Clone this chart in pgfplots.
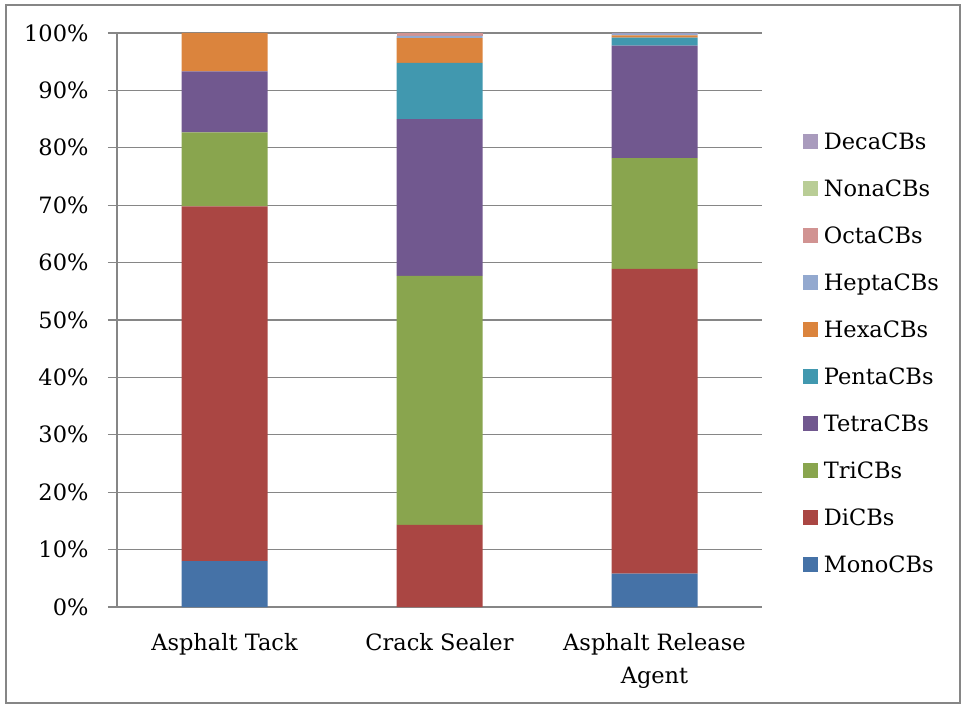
\documentclass[border=0pt]{standalone}
\usepackage{pgfplots}
\pgfplotsset{compat=1.18}
\usepackage{fontspec}
\setmainfont{DejaVu Serif}

\definecolor{cMono}{HTML}{4572A7}
\definecolor{cDi}{HTML}{AA4643}
\definecolor{cTri}{HTML}{89A54E}
\definecolor{cTetra}{HTML}{71588F}
\definecolor{cPenta}{HTML}{4198AF}
\definecolor{cHexa}{HTML}{DB843D}
\definecolor{cHepta}{HTML}{93A9CF}
\definecolor{cOcta}{HTML}{D19392}
\definecolor{cNona}{HTML}{B9CD96}
\definecolor{cDeca}{HTML}{A99BBD}
\definecolor{axgray}{RGB}{134,134,134}

\begin{document}
\begin{tikzpicture}[font=\fontsize{22.5}{33}\selectfont]
\path (0pt,0pt) rectangle (965pt,709pt);
\draw[axgray, line width=1.5pt] (6pt,6pt) rectangle (960pt,704pt);
\begin{axis}[
    at={(117pt,102pt)}, anchor=south west,
    scale only axis,
    width=645pt, height=574pt,
    ybar stacked,
    bar width=0.4,
    xmin=-0.5, xmax=2.5,
    ymin=0, ymax=100,
    axis x line*=bottom, axis y line*=left,
    axis line style={axgray, line width=1.3pt},
    xtick={0,1,2},
    xticklabels={Asphalt Tack, Crack Sealer, {Asphalt Release\\Agent}},
    xticklabel style={align=center, yshift=-14pt},
    minor xtick={-0.5,0.5,1.5,2.5},
    xtick style={draw=none},
    minor x tick style={axgray, line width=1.3pt},
    ytick={0,10,...,100},
    yticklabel={\pgfmathprintnumber[assume math mode=true]{\tick}\%},
    yticklabel style={xshift=-16pt},
    ytick style={axgray, line width=1.3pt},
    tick align=outside,
    major tick length=9pt, minor tick length=8pt,
    ymajorgrids,
    major grid style={axgray, line width=1.3pt},
    reverse legend,
    legend style={at={(1.063,0.826)}, anchor=north west, draw=none, fill=none,
        inner sep=0pt, row sep=26pt,
        /tikz/every odd column/.append style={column sep=6pt},
        nodes={inner sep=0pt, anchor=base west, text height=16pt, text depth=5pt}},
    legend image code/.code={\fill[#1] (0pt,0pt) rectangle (15pt,15pt);},
    legend cell align=left,
    every axis plot/.append style={draw=none},
]
\addplot[fill=cMono] coordinates {(0,8.0) (1,0) (2,5.8)};
\addlegendentry{MonoCBs}
\addplot[fill=cDi] coordinates {(0,61.8) (1,14.3) (2,53.1)};
\addlegendentry{DiCBs}
\addplot[fill=cTri] coordinates {(0,12.9) (1,43.4) (2,19.3)};
\addlegendentry{TriCBs}
\addplot[fill=cTetra] coordinates {(0,10.6) (1,27.3) (2,19.6)};
\addlegendentry{TetraCBs}
\addplot[fill=cPenta] coordinates {(0,0) (1,9.8) (2,1.4)};
\addlegendentry{PentaCBs}
\addplot[fill=cHexa] coordinates {(0,6.7) (1,4.3) (2,0.4)};
\addlegendentry{HexaCBs}
\addplot[fill=cHepta] coordinates {(0,0) (1,0.4) (2,0.3)};
\addlegendentry{HeptaCBs}
\addplot[fill=cOcta] coordinates {(0,0) (1,0.5) (2,0)};
\addlegendentry{OctaCBs}
\addplot[fill=cNona] coordinates {(0,0) (1,0) (2,0)};
\addlegendentry{NonaCBs}
\addplot[fill=cDeca] coordinates {(0,0) (1,0) (2,0.1)};
\addlegendentry{DecaCBs}
\end{axis}
\end{tikzpicture}
\end{document}
